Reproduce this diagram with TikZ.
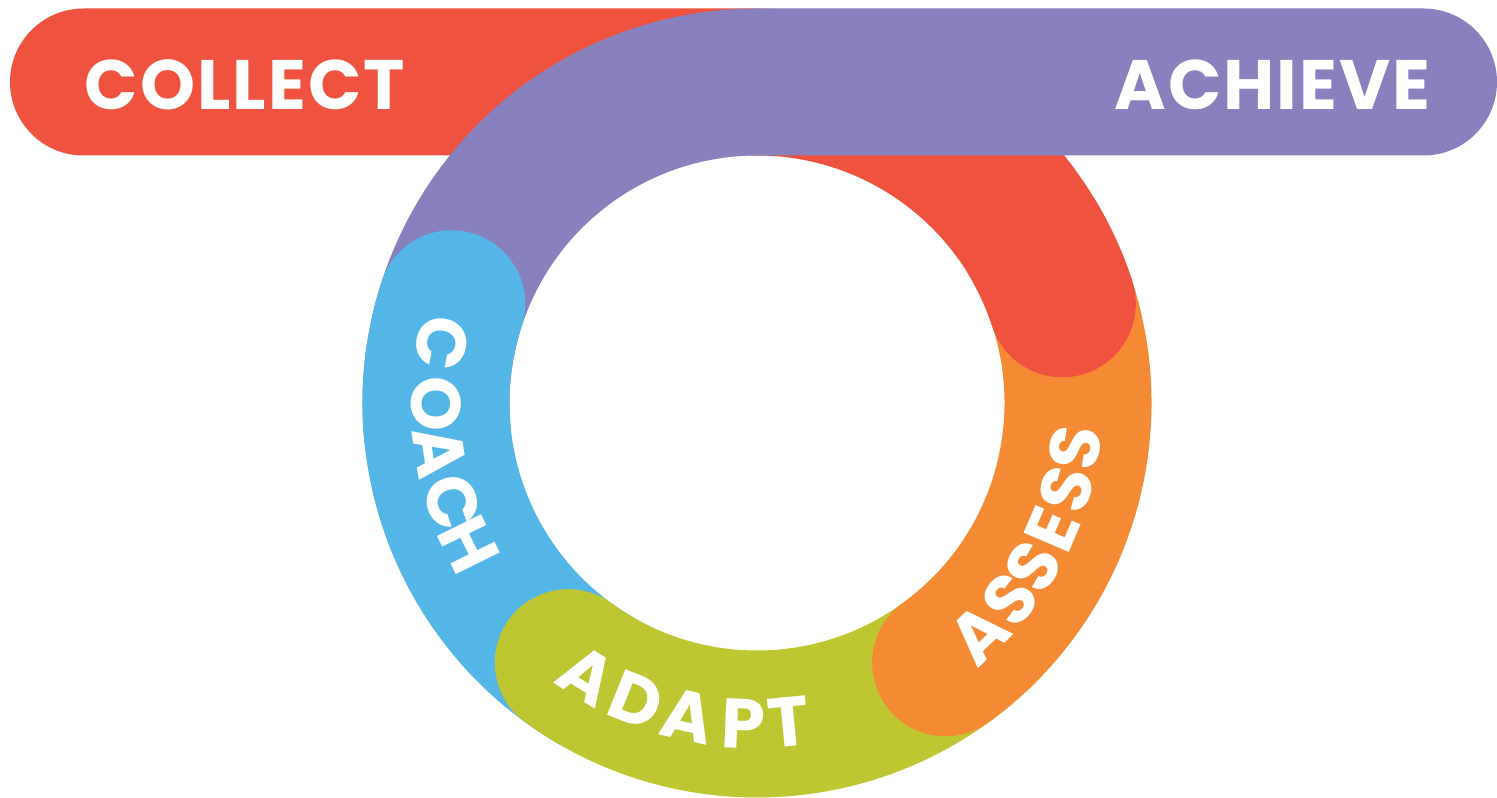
\documentclass[tikz,border=0pt]{standalone}
\usepackage{fontspec}
\setmainfont{Poppins}
\definecolor{cRed}{HTML}{EF533F}
\definecolor{cPurple}{HTML}{8881BE}
\definecolor{cBlue}{HTML}{54B6E6}
\definecolor{cGreen}{HTML}{BEC632}
\definecolor{cOrange}{HTML}{F48A34}
\newcommand{\bandfont}{\fontsize{70pt}{72pt}\selectfont\bfseries}
\tikzset{
  band/.style={line width=147pt, line cap=round},
  bartext/.style={text=white, inner sep=0pt, font=\bandfont\addfontfeatures{LetterSpace=3}},
  ringletter/.style={text=white, inner sep=0pt, anchor=base, font=\bandfont}
}
\begin{document}
\begin{tikzpicture}[x=1pt,y=1pt]
\useasboundingbox (-757,-395) rectangle (740,403);
% red: COLLECT bar and arc
\draw[band, cRed] (-673.5,321) -- (0,321) arc[start angle=90, end angle=18, radius=321];
% purple: arc and ACHIEVE bar
\draw[band, cPurple] (185:321) arc[start angle=185, end angle=90, radius=321] -- (666.5,321);
% blue: COACH
\draw[band, cBlue] (162:321) arc[start angle=162, end angle=240, radius=321];
% green: ADAPT
\draw[band, cGreen] (234:321) arc[start angle=234, end angle=315, radius=321];
% orange: ASSESS
\draw[band, cOrange] (306:321) arc[start angle=306, end angle=385, radius=321];
% red tail on top of orange
\draw[band, cRed] (30:321) arc[start angle=30, end angle=18, radius=321];
% bar texts
\node[bartext] (collect) at (-512,318) {COLLECT};
\node[bartext] (achieve) at (515.5,318) {ACHIEVE};
% ring texts, letter by letter
\foreach \a/\l [count=\i] in {169.3/C,180.1/O,188.9/A,198.1/C,206.2/H}
  \node[ringletter, rotate=\a+90] (coach\i) at (\a:345.5) {\l};
\foreach \a/\l [count=\i] in {238.1/A,248.0/D,257.6/A,267.6/P,275.6/T}
  \node[ringletter, rotate=\a+90] (adapt\i) at (\a:345.5) {\l};
\foreach \a/\l [count=\i] in {313.9/A,322.2/S,329.4/S,336.8/E,344.5/S,351.9/S}
  \node[ringletter, rotate=\a+90] (assess\i) at (\a:345.5) {\l};
\end{tikzpicture}
\end{document}
